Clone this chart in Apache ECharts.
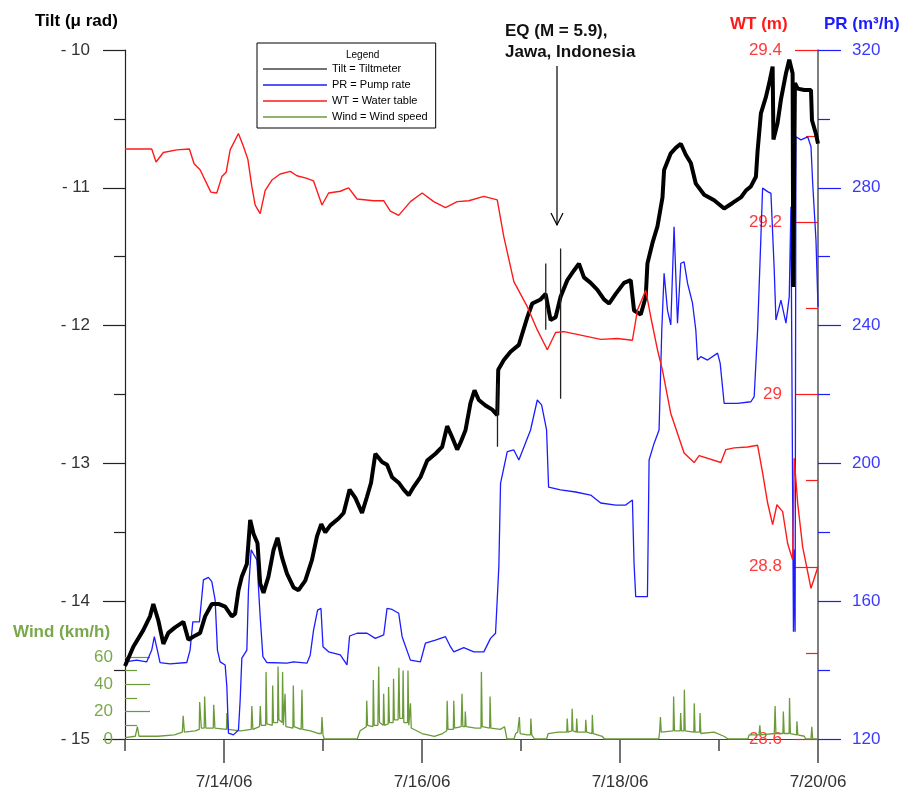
<!DOCTYPE html>
<html>
<head>
<meta charset="utf-8">
<script src="https://cdn.jsdelivr.net/npm/echarts@6/dist/echarts.min.js"></script>
<style>
  html, body {margin: 0; padding: 0; background: #fff;}
  #chart {width: 909px; height: 794px;}
</style>
</head>
<body>
<div id="chart"></div>
<script>
// time is hours after 7/13/06 00:00
const dayTicks = [24, 72, 120, 168];
const dayMinorTicks = [0, 48, 96, 144];
const dayLabels = {24: "7/14/06", 72: "7/16/06", 120: "7/18/06", 168: "7/20/06"};

const tiltTicks = [-15, -14, -13, -12, -11, -10];
const prTicks = [120, 160, 200, 240, 280, 320];
const wtTicks = [28.6, 28.8, 29.0, 29.2, 29.4];
const windTicks = [0, 20, 40, 60];
const windMinorTicks = [10, 30, 50];

// Tilt (micro rad)
const tiltData = [
  [0, -14.47], [2.02, -14.33], [4.44, -14.21], [6.07, -14.11], [6.87, -14.02], [8.08, -14.14],
  [9.3, -14.31], [10.51, -14.23], [12.14, -14.19], [14.15, -14.15], [15.37, -14.28], [16.99, -14.25],
  [18.21, -14.23], [19.42, -14.11], [21.05, -14.02], [22.65, -14.02], [24.28, -14.04], [25.9, -14.11],
  [26.7, -14.09], [27.51, -13.92], [28.33, -13.82], [29.54, -13.73], [30.35, -13.41], [31.15, -13.51],
  [32.12, -13.58], [32.77, -13.87], [33.58, -13.94], [34.79, -13.82], [36.0, -13.63], [36.97, -13.54],
  [38.04, -13.68], [39.26, -13.8], [40.86, -13.9], [42.07, -13.92], [43.7, -13.85], [45.33, -13.7],
  [46.54, -13.53], [47.58, -13.44], [48.55, -13.5], [49.77, -13.45], [51.78, -13.4], [53.0, -13.36],
  [54.45, -13.19], [55.84, -13.25], [57.46, -13.36], [58.68, -13.24], [59.65, -13.14], [60.69, -12.93],
  [62.32, -12.99], [63.53, -13.01], [64.75, -13.1], [66.35, -13.14], [67.57, -13.19], [68.78, -13.23],
  [69.99, -13.17], [71.62, -13.1], [73.24, -12.98], [75.26, -12.93], [76.89, -12.88], [78.1, -12.73],
  [79.31, -12.81], [80.53, -12.9], [81.33, -12.85], [82.54, -12.76], [83.76, -12.56], [84.73, -12.47],
  [85.77, -12.54], [87.4, -12.58], [89.03, -12.61], [90.24, -12.65], [90.48, -12.32], [91.84, -12.25],
  [93.47, -12.19], [95.48, -12.14], [97.52, -11.94], [98.73, -11.84], [100.75, -11.81], [101.96, -11.77],
  [103.18, -11.96], [104.39, -11.94], [105.6, -11.79], [107.23, -11.67], [108.84, -11.6], [110.05, -11.55],
  [111.26, -11.65], [112.89, -11.69], [114.52, -11.74], [116.12, -11.81], [117.34, -11.84], [118.96, -11.77],
  [120.97, -11.69], [122.6, -11.67], [123.4, -11.89], [125.03, -11.92], [126.24, -11.79], [126.65, -11.55],
  [127.87, -11.4], [129.08, -11.28], [130.3, -11.07], [130.69, -10.87], [132.31, -10.75], [133.52, -10.71],
  [134.74, -10.68], [135.95, -10.76], [137.17, -10.82], [138.38, -10.97], [140.4, -11.05], [142.82, -11.09],
  [145.25, -11.15], [147.29, -11.11], [149.3, -11.07], [150.52, -11.02], [151.73, -10.99], [152.95, -10.92],
  [153.36, -10.73], [154.16, -10.46], [155.38, -10.34], [156.18, -10.24], [157.0, -10.12], [157.2, -10.65],
  [158.2, -10.53], [159.01, -10.36], [160.23, -10.17], [161.03, -10.07], [161.85, -10.17], [162.0, -11.72],
  [162.41, -10.24], [163.07, -10.28], [164.67, -10.29], [166.3, -10.29], [166.54, -10.51], [167.51, -10.61],
  [168, -10.68]
];

// thin spikes in the tilt record (EQ arrival and others)
const tiltSpikes = [
  [102.0, -11.55], [102.0, -12.03], [102.0, null],
  [105.6, -11.44], [105.6, -12.53], [105.6, null],
  [90.3, -12.42], [90.3, -12.88], [90.3, null]
];

// Pump rate (m3/h)
const prData = [
  [0, 142.4], [2.84, 142.9], [5.27, 142.4], [6.48, 145.8], [7.11, 149.7], [7.84, 145.8], [8.5, 142.2],
  [10.92, 141.8], [14.98, 142.2], [15.78, 145.8], [16.44, 154.0], [18.04, 154.0], [19.01, 166.2],
  [20.22, 166.9], [21.05, 165.7], [21.85, 160.3], [22.41, 145.8], [23.06, 142.4], [24.28, 141.5],
  [24.69, 135.2], [25.08, 121.7], [26.29, 121.2], [27.51, 122.6], [27.92, 131.3], [28.33, 143.5],
  [29.54, 145.8], [29.93, 163.2], [30.59, 174.9], [31.15, 173.7], [31.97, 172.0], [32.77, 155.5],
  [33.43, 143.9], [34.4, 142.2], [39.26, 142.0], [40.86, 142.4], [44.11, 142.0], [44.91, 144.4],
  [45.71, 151.6], [46.69, 157.4], [47.51, 157.9], [48.0, 146.8], [49.36, 145.3], [52.2, 144.4],
  [53.82, 141.5], [54.45, 149.9], [56.25, 150.7], [58.68, 150.7], [60.69, 149.2], [62.71, 150.2],
  [63.53, 157.9], [64.75, 157.6], [66.35, 156.5], [67.18, 149.7], [69.19, 142.9], [71.62, 142.4],
  [72.83, 147.8], [75.26, 148.7], [77.69, 149.7], [78.9, 146.8], [79.7, 145.3], [82.13, 146.5],
  [84.56, 145.3], [86.99, 145.3], [88.61, 149.2], [89.83, 150.7], [90.63, 170.0], [91.04, 194.2],
  [92.67, 203.4], [94.27, 203.9], [95.48, 201.0], [98.32, 209.7], [99.95, 218.4], [100.99, 217.0],
  [102.2, 209.7], [102.69, 193.1], [105.6, 192.3], [109.25, 191.7], [112.89, 190.8], [115.32, 188.5],
  [118.96, 187.9], [121.39, 187.9], [123.01, 189.4], [123.4, 171.1], [123.81, 161.3], [126.65, 161.3],
  [126.85, 180.7], [127.05, 201.0], [128.26, 205.8], [129.47, 209.7], [130.13, 238.7], [130.69, 255.2],
  [131.51, 244.5], [132.31, 240.2], [133.11, 268.7], [133.52, 268.7], [133.94, 240.7], [134.74, 258.1],
  [135.54, 258.5], [136.37, 252.3], [137.58, 246.5], [138.38, 238.7], [138.8, 230.0], [139.59, 231.0],
  [141.22, 230.0], [143.65, 232.0], [144.28, 229.1], [145.25, 217.4], [148.5, 217.4], [151.73, 217.9],
  [152.53, 219.4], [153.36, 238.7], [154.16, 265.8], [154.57, 279.9], [155.79, 278.9], [156.59, 278.4],
  [157.39, 256.1], [157.8, 241.6], [159.01, 247.4], [160.23, 240.7], [161.03, 248.4], [161.44, 274.5],
  [162.05, 151.1], [162.3, 175.0], [162.45, 151.1], [162.65, 294.8], [163.87, 293.9], [165.5, 294.8],
  [166.3, 291.9], [166.71, 281.3], [167.51, 264.8], [168, 245.5]
];

// Water table (m)
const wtData = [
  [0, 29.285], [6.48, 29.285], [7.53, 29.27], [9.3, 29.281], [12.55, 29.284], [15.61, 29.285],
  [16.75, 29.268], [18.2, 29.261], [20.81, 29.235], [22.26, 29.234], [23.48, 29.253], [24.52, 29.258],
  [25.49, 29.284], [27.5, 29.303], [28.72, 29.288], [29.79, 29.273], [30.76, 29.241], [31.56, 29.22],
  [32.77, 29.21], [33.99, 29.237], [35.61, 29.249], [37.62, 29.256], [40.05, 29.259], [41.68, 29.254],
  [44.11, 29.251], [45.71, 29.248], [47.75, 29.22], [49.36, 29.234], [52.2, 29.236], [54.21, 29.24],
  [56.25, 29.227], [60.28, 29.225], [62.71, 29.225], [64.33, 29.213], [66.35, 29.208], [69.19, 29.224],
  [72.03, 29.234], [74.85, 29.224], [77.69, 29.217], [80.53, 29.224], [83.35, 29.225], [86.99, 29.23],
  [90.24, 29.226], [91.84, 29.183], [94.27, 29.131], [97.52, 29.102], [99.95, 29.075], [102.38, 29.052],
  [104.39, 29.072], [106.41, 29.073], [110.46, 29.069], [115.32, 29.064], [119.37, 29.065], [123.01, 29.063],
  [124.23, 29.098], [126.24, 29.121], [127.46, 29.09], [129.08, 29.052], [130.3, 29.028], [132.31, 28.978],
  [135.54, 28.932], [137.97, 28.921], [139.18, 28.929], [144.45, 28.921], [145.66, 28.936], [147.68, 28.938],
  [150.93, 28.939], [153.36, 28.941], [154.57, 28.909], [155.79, 28.874], [157.0, 28.849], [158.04, 28.872],
  [159.43, 28.864], [160.64, 28.827], [161.86, 28.808], [162.24, 28.926], [163.07, 28.874], [164.28, 28.823],
  [166.3, 28.775], [168, 28.8]
];

// Wind speed (km/h)
const windData = [
  [0, 1], [2.5, 2], [3.0, 9], [3.4, 2], [8, 2], [12, 3], [13.9, 5], [14.1, 17], [14.4, 5], [17, 6],
  [18, 7], [18.1, 27], [18.5, 8], [19.2, 8], [19.3, 31], [19.6, 8], [21.4, 8], [21.5, 25], [21.8, 8],
  [24.6, 7], [24.7, 19], [25.0, 7], [28, 6], [30.6, 7], [30.75, 24], [31, 7], [32.6, 9], [32.8, 24],
  [33.0, 10], [34.1, 10], [34.2, 49], [34.4, 11], [35.7, 10], [35.8, 39], [36.0, 12], [37.0, 12],
  [37.1, 53], [37.3, 14], [38.1, 12], [38.2, 49], [38.4, 10], [38.7, 11], [38.8, 33], [39.0, 9],
  [40.7, 8], [40.8, 39], [41.0, 9], [42.7, 7], [42.9, 36], [43.1, 7], [45, 6], [47, 4], [47.6, 4],
  [47.75, 16], [48.0, 3], [48.3, 0], [56.3, 0], [57.0, 6], [58.5, 9], [58.6, 28], [58.8, 10],
  [60.1, 9], [60.2, 43], [60.4, 10], [61.3, 10], [61.5, 53], [61.7, 12], [62.6, 10], [62.7, 33],
  [62.9, 10], [63.8, 11], [63.9, 38], [64.1, 12], [65.0, 12], [65.1, 44], [65.3, 14], [66.2, 14],
  [66.4, 52], [66.6, 15], [67.3, 15], [67.42, 50], [67.6, 12], [68.5, 12], [68.6, 50], [68.8, 10],
  [69.1, 9], [69.2, 26], [69.4, 8], [72, 4], [75, 2], [77, 4], [78.0, 6], [78.1, 28], [78.3, 7],
  [79.6, 7], [79.7, 28], [79.9, 8], [81.5, 9], [81.7, 33], [81.9, 9], [82.4, 9], [82.5, 20], [82.7, 9],
  [85, 8], [86.3, 8], [86.4, 49], [86.6, 9], [88.4, 8], [88.5, 31], [88.7, 8], [91, 7], [92.0, 9],
  [92.6, 0], [94.3, 0], [94.7, 4], [95.2, 5], [95.5, 5], [95.6, 16], [95.8, 4], [97.5, 3], [98.3, 3],
  [98.4, 15], [98.6, 3], [99.3, 0], [102.2, 0], [102.6, 4], [105, 5], [107.1, 5], [107.2, 15], [107.4, 5],
  [108.3, 6], [108.4, 22], [108.6, 6], [109.4, 5], [109.5, 15], [109.7, 5], [111.6, 5], [111.7, 14],
  [111.9, 5], [113.2, 4], [113.3, 17.5], [113.5, 4], [115.7, 2], [116.2, 0], [129.4, 0], [129.6, 5],
  [129.8, 16], [130.0, 5], [132.9, 6], [133.0, 31], [133.2, 6], [134.6, 6], [134.7, 19], [134.9, 6],
  [135.5, 6], [135.6, 36], [135.8, 6], [137.9, 5], [138.0, 26], [138.2, 5], [139.3, 5], [139.4, 19],
  [139.6, 4], [142.8, 5], [145.2, 2], [146.2, 0], [151, 0], [151.3, 3], [153.7, 3], [153.9, 10],
  [154.1, 3], [157.4, 4], [157.6, 24], [157.8, 4], [159.5, 4], [159.6, 20], [159.8, 4], [161.0, 4],
  [161.1, 30], [161.3, 4], [162.8, 3], [162.9, 13], [163.1, 3], [164.7, 2], [165, 0], [166.3, 0],
  [166.5, 9], [166.7, 0], [168, 0]
];

const FONT = "Liberation Sans";
const TILT = "#000000";
const PR = "#1c1cff";
const WT = "#ff1a1a";
const WIND = "#6a9b38";
const WIND_TEXT = "#7aa84c";

const chart = echarts.init(document.getElementById("chart"), null, {renderer: "canvas"});

const option = {
  backgroundColor: "#fff",
  animation: false,
  textStyle: {fontFamily: FONT},
  grid: {left: 125, right: 91, top: 50, bottom: 55, containLabel: false},
  legend: {
    left: 257,
    top: 43,
    orient: "vertical",
    selectedMode: false,
    padding: [19, 8, 4, 6],
    itemGap: 2,
    itemWidth: 64,
    itemHeight: 1.5,
    icon: "rect",
    borderColor: "#000",
    borderWidth: 1,
    textStyle: {fontFamily: FONT, fontSize: 11, color: "#000", lineHeight: 14},
    data: ["Tilt = Tiltmeter", "PR = Pump rate", "WT = Water table", "Wind = Wind speed"],
  },
  xAxis: [
    {
      type: "value",
      min: 0,
      max: 168,
      axisLine: {onZero: false, lineStyle: {color: "#444", width: 1.2}},
      axisTick: {customValues: dayTicks, length: 24, lineStyle: {color: "#444", width: 1.5}},
      axisLabel: {
        customValues: dayTicks,
        formatter: (v) => dayLabels[v] || "",
        margin: 35,
        fontSize: 17,
        color: "#333",
        fontFamily: FONT,
      },
      splitLine: {show: false},
    },
    {
      type: "value",
      min: 0,
      max: 168,
      position: "bottom",
      axisLine: {show: false, onZero: false},
      axisTick: {customValues: dayMinorTicks, length: 12, lineStyle: {color: "#444", width: 1.5}},
      axisLabel: {show: false},
      splitLine: {show: false},
    },
  ],
  yAxis: [
    {
      // 0: tilt
      type: "value",
      position: "left",
      min: -15,
      max: -10,
      interval: 1,
      axisLine: {show: true, onZero: false, lineStyle: {color: "#222", width: 1.2}},
      axisTick: {show: true, length: 22, lineStyle: {color: "#222", width: 1.2}},
      minorTick: {show: true, splitNumber: 2, length: 11, lineStyle: {color: "#222", width: 1.2}},
      axisLabel: {
        margin: 35,
        fontSize: 17,
        color: "#333",
        fontFamily: FONT,
        formatter: (v) => (v < 0 ? "- " + Math.abs(v) : String(v)),
      },
      splitLine: {show: false},
    },
    {
      // 1: pump rate
      type: "value",
      position: "right",
      min: 120,
      max: 320,
      interval: 40,
      axisLine: {show: true, onZero: false, lineStyle: {color: "#555", width: 1.5}},
      axisTick: {show: true, length: 23, lineStyle: {color: PR, width: 1.2}},
      minorTick: {show: true, splitNumber: 2, length: 12, lineStyle: {color: PR, width: 1.2}},
      axisLabel: {margin: 34, fontSize: 17, color: "#3a3aff", fontFamily: FONT},
      splitLine: {show: false},
    },
    {
      // 2: water table
      type: "value",
      position: "right",
      min: 28.6,
      max: 29.4,
      interval: 0.2,
      axisLine: {show: false, onZero: false},
      axisTick: {show: true, inside: true, length: 23, lineStyle: {color: WT, width: 1.2}},
      minorTick: {show: true, splitNumber: 2, length: 12, lineStyle: {color: WT, width: 1.2}},
      axisLabel: {
        inside: true,
        margin: 36,
        fontSize: 17,
        color: "#ff3a3a",
        fontFamily: FONT,
        formatter: (v) => String(Math.round(v * 10) / 10),
      },
      splitLine: {show: false},
    },
    {
      // 3: wind, bottom part of the plot only
      type: "value",
      position: "left",
      min: 0,
      max: 503,
      axisLine: {show: false, onZero: false},
      axisTick: {show: true, inside: true, customValues: [20, 40, 60], length: 25, lineStyle: {color: WIND, width: 1.2}},
      axisLabel: {customValues: windTicks, margin: 12, fontSize: 17, color: WIND_TEXT, fontFamily: FONT},
      splitLine: {show: false},
    },
    {
      // 4: wind minor ticks
      type: "value",
      position: "left",
      min: 0,
      max: 503,
      axisLine: {show: false, onZero: false},
      axisTick: {show: true, inside: true, customValues: windMinorTicks, length: 12, lineStyle: {color: WIND, width: 1.2}},
      axisLabel: {show: false},
      splitLine: {show: false},
    },
  ],
  series: [
    {
      name: "Wind = Wind speed",
      type: "line",
      xAxisIndex: 0,
      yAxisIndex: 3,
      data: windData,
      symbol: "none",
      itemStyle: {color: WIND},
      lineStyle: {color: WIND, width: 1.3},
      z: 2,
    },
    {
      name: "PR = Pump rate",
      type: "line",
      xAxisIndex: 0,
      yAxisIndex: 1,
      data: prData,
      symbol: "none",
      itemStyle: {color: PR},
      lineStyle: {color: PR, width: 1.3},
      z: 3,
    },
    {
      name: "Tilt = Tiltmeter",
      type: "line",
      xAxisIndex: 0,
      yAxisIndex: 0,
      data: tiltData,
      symbol: "none",
      itemStyle: {color: "#444"},
      lineStyle: {color: TILT, width: 4},
      z: 4,
    },
    {
      name: "tilt spikes",
      type: "line",
      xAxisIndex: 0,
      yAxisIndex: 0,
      data: tiltSpikes,
      symbol: "none",
      connectNulls: false,
      lineStyle: {color: "#222", width: 1.3},
      z: 4,
    },
    {
      name: "WT = Water table",
      type: "line",
      xAxisIndex: 0,
      yAxisIndex: 2,
      data: wtData,
      symbol: "none",
      itemStyle: {color: WT},
      lineStyle: {color: WT, width: 1.4},
      z: 5,
    },
  ],
  graphic: [
    {type: "text", left: 35, top: 13, style: {text: "Tilt (\u03bc rad)", fill: "#000", font: "bold 17px " + FONT}},
    {type: "text", left: 13, top: 624, style: {text: "Wind (km/h)", fill: WIND_TEXT, font: "bold 17px " + FONT}},
    {type: "text", left: 730, top: 16, style: {text: "WT (m)", fill: "#ff1a1a", font: "bold 17px " + FONT}},
    {type: "text", left: 824, top: 16, style: {text: "PR (m\u00b3/h)", fill: "#1c1cff", font: "bold 17px " + FONT}},
    {type: "text", left: 346, top: 50, style: {text: "Legend", fill: "#000", font: "10px " + FONT, textAlign: "center"}},
    {
      type: "text",
      left: 505,
      top: 21,
      style: {text: "EQ (M = 5.9),\nJawa, Indonesia", fill: "#111", font: "bold 17px " + FONT, lineHeight: 21},
    },
    {type: "line", shape: {x1: 557, y1: 66, x2: 557, y2: 225}, style: {stroke: "#000", lineWidth: 1.2}},
    {type: "polyline", shape: {points: [[551, 213], [557, 225], [563, 213]]}, style: {stroke: "#000", lineWidth: 1.2, fill: null}},
  ],
};

chart.setOption(option);
</script>
</body>
</html>
